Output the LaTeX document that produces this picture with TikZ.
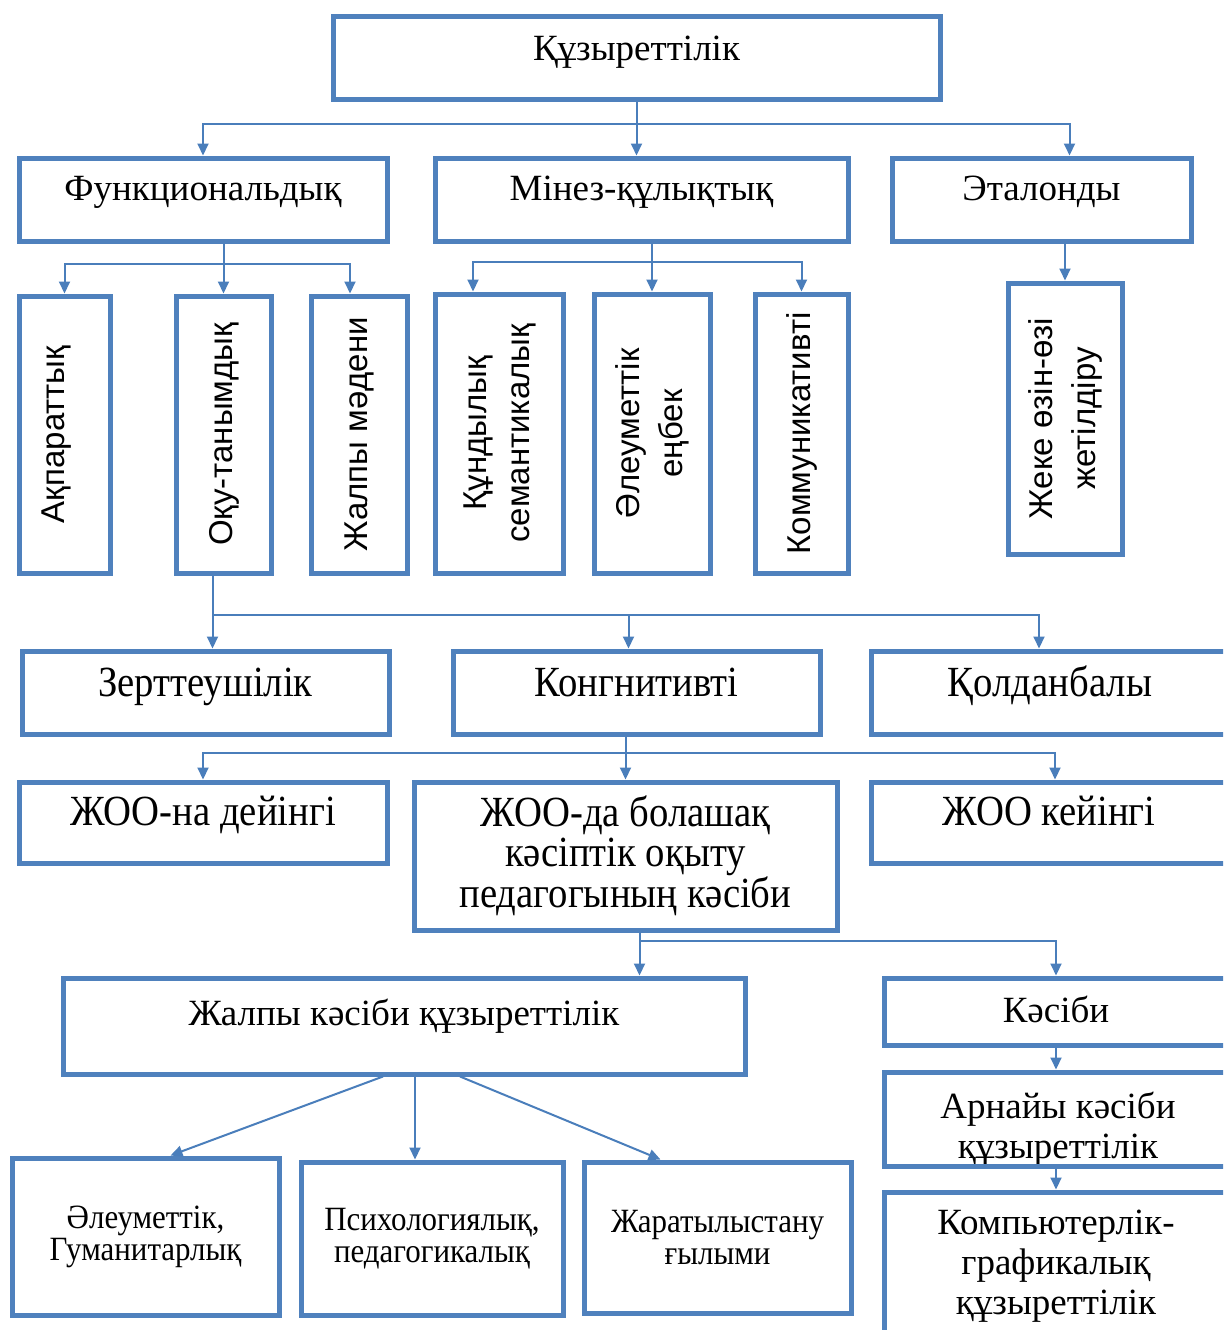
\documentclass[tikz,border=0pt]{standalone}
\usepackage{fontspec}
\setmainfont{Liberation Serif}
\newfontfamily\narrowfont[FakeStretch=0.9]{Liberation Serif}
\newfontfamily\smallfont[FakeStretch=0.91]{Liberation Serif}
\newfontfamily\vertfont{Liberation Sans}
\usepackage{tikz}
\usetikzlibrary{calc,arrows.meta}
\definecolor{boxblue}{RGB}{79,129,189}
\definecolor{lineblue}{RGB}{74,126,187}
\newcommand{\vtext}[1]{\rotatebox{90}{\vertfont\fontsize{33}{43}\selectfont\begin{tabular}{@{}c@{}}#1\end{tabular}}}

\begin{document}
\begin{tikzpicture}[x=1pt,y=-1pt,
  box/.style={draw=boxblue,line width=5,inner sep=0,align=center},
  serif/.style={font=\fontsize{37}{40}\selectfont},
  narrow/.style={font=\narrowfont\fontsize{43}{40}\selectfont},
  small/.style={font=\smallfont\fontsize{34}{32}\selectfont},
  arr/.style={draw=lineblue,line width=2,-{Triangle[length=12pt,width=11pt]}}]
\useasboundingbox (0,0) rectangle (1223,1330);
\clip (0,0) rectangle (1223,1330);
% top and first level
\node[box,serif,minimum width=607,minimum height=82,text height=44pt,text depth=38pt] (kuz) at (636.5,58) {Құзыреттілік};
\node[box,serif,minimum width=368,minimum height=83,text height=42pt,text depth=41pt] (fun) at (203,199.5) {Функциональдық};
\node[box,serif,minimum width=413,minimum height=83,text height=42pt,text depth=41pt] (mnz) at (641.5,199.5) {Мінез-құлықтық};
\node[box,serif,minimum width=299,minimum height=83,text height=42pt,text depth=41pt] (eta) at (1041.5,199.5) {Эталонды};
% vertical boxes
\node[box,minimum width=91,minimum height=277] (akp) at (64.5,434.5) {\hspace*{-18pt}\vtext{Ақпараттық}};
\node[box,minimum width=95,minimum height=277] (oku) at (223.5,434.5) {\vtext{Оқу-танымдық}};
\node[box,minimum width=96,minimum height=277] (jal) at (359,434.5) {\vtext{Жалпы мәдени}};
\node[box,minimum width=128,minimum height=279] (kun) at (499,433.5) {\vtext{Құндылық\\семантикалық}};
\node[box,minimum width=116,minimum height=279] (ale) at (652,433.5) {\vtext{Әлеуметтік\\еңбек}};
\node[box,minimum width=93,minimum height=279] (kom) at (801.5,433.5) {\vtext{Коммуникативті}};
\node[box,minimum width=114,minimum height=271] (jek) at (1065,418.5) {\vtext{Жеке өзін-өзі\\жетілдіру}};
% third level
\node[box,narrow,minimum width=367,minimum height=83,text height=45pt,text depth=38pt] (zer) at (205.5,692.5) {Зерттеушілік};
\node[box,narrow,minimum width=367,minimum height=83,text height=45pt,text depth=38pt] (kon) at (636.5,692.5) {Конгнитивті};
\node[box,narrow,minimum width=358,minimum height=83,text height=45pt,text depth=38pt] (qol) at (1050,692.5) {Қолданбалы};
% fourth level
\node[box,narrow,minimum width=368,minimum height=81,text height=43pt,text depth=38pt] (dey) at (203,822.5) {ЖОО-на дейінгі};
\node[box,narrow,minimum width=423,minimum height=148] (zhoo) at (625.5,856) {ЖОО-да болашақ\\кәсіптік оқыту\\педагогының кәсіби};
\node[box,narrow,minimum width=356,minimum height=81,text height=43pt,text depth=38pt] (key) at (1049,822.5) {ЖОО кейінгі};
% fifth level
\node[box,serif,minimum width=682,minimum height=96,text height=47pt,text depth=49pt] (jkz) at (404,1026) {Жалпы кәсіби құзыреттілік};
\node[box,serif,minimum width=344,minimum height=67,text height=44pt,text depth=23pt] (kas) at (1056,1011.5) {Кәсіби};
\node[serif,align=center] (arntxt) at (1058,1129) {Арнайы кәсіби\\құзыреттілік};
\node[box,fill=none,minimum width=344,minimum height=94] (arn) at (1056,1119) {};
\node[box,serif,minimum width=344,minimum height=148] (kgr) at (1056,1266) {Компьютерлік-\\графикалық\\құзыреттілік};
% bottom row
\node[box,small,minimum width=267,minimum height=157] (gum) at (145.5,1236.5) {Әлеуметтік,\\Гуманитарлық};
\node[box,small,minimum width=262,minimum height=153] (psi) at (432,1238.5) {Психологиялық,\\педагогикалық};
\node[box,small,minimum width=267,minimum height=151] (jar) at (717.5,1237.5) {Жаратылыстану\\ғылыми};
% connectors
\coordinate (b1) at ($(kuz.south)+(0,22)$);
\draw[arr] (kuz.south) -- (kuz.south|-mnz.north);
\draw[arr] (b1) -| (fun.north);
\draw[arr] (b1) -| ([xshift=28pt]eta.north);
\coordinate (fb) at ($(oku.north|-fun.south)+(0,20)$);
\draw[arr] (oku.north|-fun.south) -- (oku.north);
\draw[arr] (fb) -| (akp.north);
\draw[arr] (fb) -| ([xshift=-9pt]jal.north);
\coordinate (mb) at ($(ale.north|-mnz.south)+(0,18)$);
\draw[arr] (ale.north|-mnz.south) -- (ale.north);
\draw[arr] (mb) -| ([xshift=-26pt]kun.north);
\draw[arr] (mb) -| (kom.north);
\draw[arr] (jek.north|-eta.south) -- (jek.north);
\coordinate (ob) at ($([xshift=-11pt]oku.south)+(0,39)$);
\draw[arr] ([xshift=-11pt]oku.south) -- ([xshift=-11pt]oku.south|-zer.north);
\draw[arr] (ob) -| ([xshift=-8pt]kon.north);
\draw[arr] (ob) -| ([xshift=-11pt]qol.north);
\coordinate (kb) at ($(zhoo.north|-kon.south)+(0,16)$);
\draw[arr] (zhoo.north|-kon.south) -- (zhoo.north);
\draw[arr] (kb) -| (dey.north);
\draw[arr] (kb) -| ([xshift=6pt]key.north);
\coordinate (zb) at ($([xshift=14pt]zhoo.south)+(0,8)$);
\draw[arr] ([xshift=14pt]zhoo.south) -- ([xshift=14pt]zhoo.south|-jkz.north);
\draw[arr] (zb) -| (kas.north);
\draw[arr] (kas.south) -- (arn.north);
\draw[arr] (arn.south) -- (kgr.north);
\draw[arr] ([xshift=-21pt]jkz.south) -- ([xshift=25pt]gum.north);
\draw[arr] ([xshift=11pt]jkz.south) -- ([xshift=-17pt]psi.north);
\draw[arr] ([xshift=56pt]jkz.south) -- ([xshift=-57pt]jar.north);
\end{tikzpicture}
\end{document}
